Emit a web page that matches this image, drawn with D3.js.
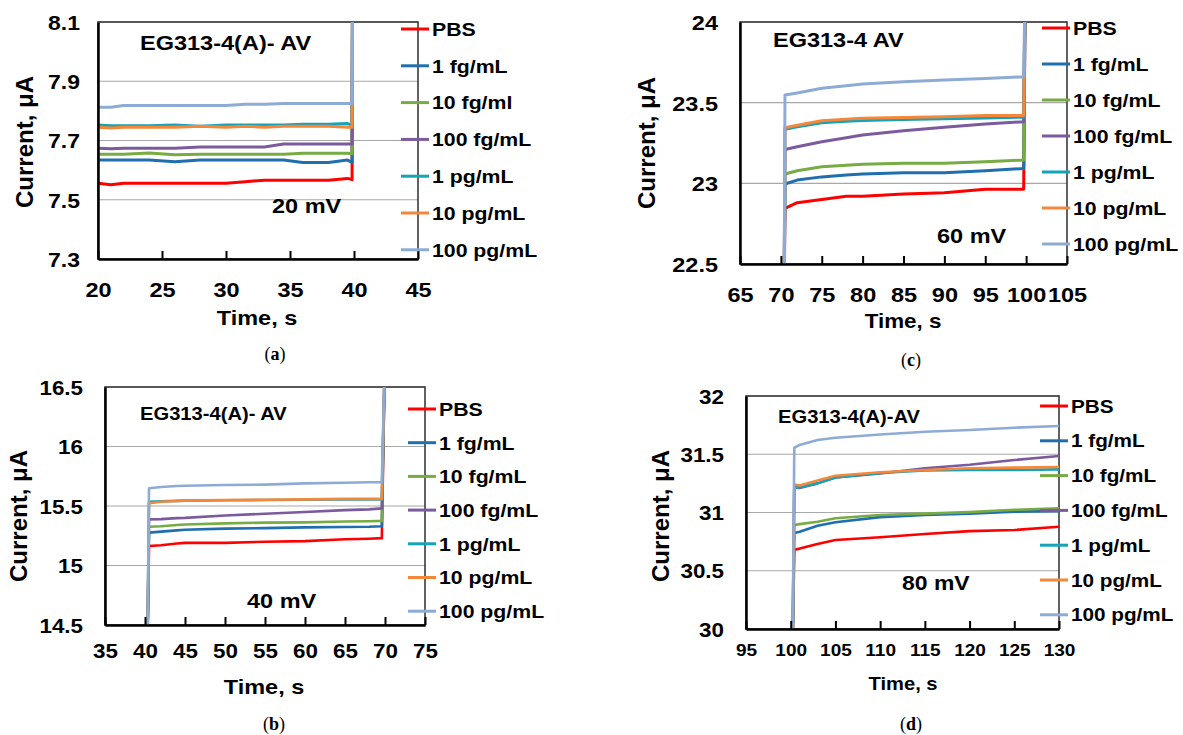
<!DOCTYPE html>
<html>
<head>
<meta charset="utf-8">
<script src="https://cdn.jsdelivr.net/npm/d3@7"></script>
<style>
body { margin: 0; background: #fff; }
svg { display: block; }
text { font-family: "Liberation Sans", Arial, sans-serif; font-weight: bold; fill: #000; }
.tag { font-family: "Liberation Serif", "DejaVu Serif", serif; font-weight: normal; }
</style>
</head>
<body>
<svg id="chart" width="1183" height="735"></svg>
<script>
// Series names and colours (same order in every panel, PBS drawn first)
var seriesNames = ['PBS', '1 fg/mL', '10 fg/mL', '100 fg/mL', '1 pg/mL', '10 pg/mL', '100 pg/mL'];
var legendNamesA = ['PBS', '1 fg/mL', '10 fg/ml', '100 fg/mL', '1 pg/mL', '10 pg/mL', '100 pg/mL'];
var seriesColors = ['#ff0000', '#1f6fae', '#77ab43', '#7b5b9e', '#16a2b7', '#f5873a', '#8eabd6'];

// (a) 20 mV
var timeA = [20, 21, 22, 24, 26, 28, 30, 31.5, 33, 34.5, 36, 38, 39.5, 39.85, 39.9];
var pbsA = [7.556, 7.551, 7.556, 7.556, 7.556, 7.556, 7.556, 7.561, 7.566, 7.566, 7.566, 7.566, 7.572, 7.568, 8.4];
var fg1A = [7.634, 7.634, 7.634, 7.634, 7.628, 7.634, 7.634, 7.634, 7.634, 7.634, 7.626, 7.626, 7.634, 7.626, 8.4];
var fg10A = [7.654, 7.654, 7.654, 7.658, 7.652, 7.654, 7.654, 7.654, 7.654, 7.654, 7.657, 7.657, 7.657, 7.655, 8.4];
var fg100A = [7.674, 7.672, 7.674, 7.674, 7.674, 7.678, 7.678, 7.678, 7.678, 7.688, 7.688, 7.688, 7.688, 7.688, 8.4];
var pg1A = [7.752, 7.75, 7.75, 7.75, 7.752, 7.748, 7.752, 7.752, 7.752, 7.752, 7.755, 7.755, 7.757, 7.752, 8.4];
var pg10A = [7.745, 7.742, 7.745, 7.745, 7.745, 7.748, 7.745, 7.748, 7.745, 7.748, 7.748, 7.748, 7.745, 7.745, 8.4];
var pg100A = [7.812, 7.812, 7.818, 7.818, 7.818, 7.818, 7.818, 7.822, 7.822, 7.825, 7.825, 7.825, 7.825, 7.825, 8.4];
var xTicksA = [20, 25, 30, 35, 40, 45];
var yTicksA = [7.3, 7.5, 7.7, 7.9, 8.1];

// (b) 40 mV
var timeB = [40.3, 40.5, 42, 44, 45, 50, 55, 60, 65, 68, 69.6, 70.0];
var pbsB = [14.3, 15.164, 15.17, 15.185, 15.19, 15.19, 15.2, 15.205, 15.22, 15.225, 15.23, 16.8];
var fg1B = [14.3, 15.276, 15.285, 15.295, 15.3, 15.31, 15.314, 15.32, 15.323, 15.326, 15.33, 16.8];
var fg10B = [14.3, 15.326, 15.33, 15.34, 15.345, 15.354, 15.36, 15.362, 15.37, 15.372, 15.375, 16.8];
var fg100B = [14.3, 15.388, 15.39, 15.398, 15.4, 15.42, 15.435, 15.45, 15.465, 15.472, 15.48, 16.8];
var pg1B = [14.3, 15.536, 15.54, 15.543, 15.545, 15.548, 15.55, 15.552, 15.555, 15.555, 15.556, 16.8];
var pg10B = [14.3, 15.523, 15.536, 15.542, 15.545, 15.55, 15.553, 15.556, 15.56, 15.56, 15.56, 16.8];
var pg100B = [14.3, 15.649, 15.66, 15.668, 15.67, 15.676, 15.68, 15.69, 15.695, 15.7, 15.7, 16.8];
var xTicksB = [35, 40, 45, 50, 55, 60, 65, 70, 75];
var yTicksB = [14.5, 15, 15.5, 16, 16.5];

// (c) 60 mV
var timeC = [70.4, 70.5, 72, 75, 78, 80, 85, 90, 95, 99.7, 99.9];
var pbsC = [22.3, 22.845, 22.88, 22.9, 22.92, 22.92, 22.934, 22.942, 22.963, 22.963, 24.3];
var fg1C = [22.3, 22.996, 23.02, 23.04, 23.052, 23.058, 23.066, 23.066, 23.078, 23.092, 24.3];
var fg10C = [22.3, 23.058, 23.078, 23.103, 23.112, 23.118, 23.124, 23.124, 23.134, 23.144, 24.3];
var fg100C = [22.3, 23.21, 23.227, 23.258, 23.283, 23.3, 23.326, 23.347, 23.368, 23.382, 24.3];
var pg1C = [22.3, 23.335, 23.35, 23.376, 23.385, 23.39, 23.395, 23.4, 23.405, 23.41, 24.3];
var pg10C = [22.3, 23.345, 23.36, 23.388, 23.398, 23.403, 23.408, 23.413, 23.42, 23.42, 24.3];
var pg100C = [22.3, 23.547, 23.56, 23.589, 23.605, 23.616, 23.63, 23.64, 23.65, 23.66, 24.3];
var xTicksC = [65, 70, 75, 80, 85, 90, 95, 100, 105];
var yTicksC = [22.5, 23, 23.5, 24];

// (d) 80 mV
var timeD = [100.2, 100.4, 101, 103, 105, 110, 115, 120, 125, 130];
var pbsD = [29.8, 30.68, 30.69, 30.73, 30.764, 30.787, 30.815, 30.84, 30.85, 30.878];
var fg1D = [29.8, 30.824, 30.835, 30.887, 30.916, 30.96, 30.98, 30.99, 31.007, 31.013];
var fg10D = [29.8, 30.893, 30.9, 30.92, 30.95, 30.978, 30.99, 31.003, 31.023, 31.037];
var fg100D = [29.8, 31.216, 31.21, 31.25, 31.3, 31.335, 31.38, 31.41, 31.45, 31.485];
var pg1D = [29.8, 31.21, 31.22, 31.25, 31.3, 31.34, 31.36, 31.365, 31.365, 31.37];
var pg10D = [29.8, 31.24, 31.232, 31.275, 31.316, 31.345, 31.365, 31.38, 31.385, 31.39];
var pg100D = [29.8, 31.556, 31.58, 31.622, 31.642, 31.67, 31.693, 31.708, 31.728, 31.742];
var xTicksD = [95, 100, 105, 110, 115, 120, 125, 130];
var yTicksD = [30, 30.5, 31, 31.5, 32];

// The source figure is slightly stretched sideways, so text is too
var SX = 1.12;

var panels = [
    { tag: 'a', time: timeA, values: [pbsA, fg1A, fg10A, fg100A, pg1A, pg10A, pg100A], names: legendNamesA,
      box: { left: 98, right: 418, top: 22, bottom: 259 },
      xDomain: [20, 45], xTicks: xTicksA, yDomain: [7.3, 8.1], yTicks: yTicksA,
      title: 'EG313-4(A)- AV', titlePos: [140, 50], titleSize: 21,
      volt: '20 mV', voltPos: [272, 213], voltSize: 21,
      yTickSize: 20.5, xTickSize: 21, xLabelOff: 38, yLabelGap: 18,
      xTitlePos: [257, 325], xTitleSize: 21, yTitlePos: [33, 142],
      legend: { x: 401, y: 29, dy: 36.8, size: 19 },
      tagPos: [275, 360], lineWidth: 3 },
    { tag: 'b', time: timeB, values: [pbsB, fg1B, fg10B, fg100B, pg1B, pg10B, pg100B], names: seriesNames,
      box: { left: 105, right: 425, top: 387, bottom: 625 },
      xDomain: [35, 75], xTicks: xTicksB, yDomain: [14.5, 16.5], yTicks: yTicksB,
      title: 'EG313-4(A)- AV', titlePos: [140, 420], titleSize: 18,
      volt: '40 mV', voltPos: [247, 608], voltSize: 21,
      yTickSize: 20, xTickSize: 20, xLabelOff: 33, yLabelGap: 22,
      xTitlePos: [264, 694], xTitleSize: 21, yTitlePos: [27, 516],
      legend: { x: 408, y: 409, dy: 33.7, size: 19 },
      tagPos: [274, 730], lineWidth: 2.6 },
    { tag: 'c', time: timeC, values: [pbsC, fg1C, fg10C, fg100C, pg1C, pg10C, pg100C], names: seriesNames,
      box: { left: 740, right: 1067, top: 22, bottom: 264 },
      xDomain: [65, 105], xTicks: xTicksC, yDomain: [22.5, 24], yTicks: yTicksC,
      title: 'EG313-4 AV', titlePos: [773, 47], titleSize: 21,
      volt: '60 mV', voltPos: [937, 243], voltSize: 21,
      yTickSize: 21, xTickSize: 21, xLabelOff: 38, yLabelGap: 22,
      xTitlePos: [903, 328], xTitleSize: 20, yTitlePos: [655, 143],
      legend: { x: 1042, y: 28, dy: 36, size: 19 },
      tagPos: [911, 366], lineWidth: 3 },
    { tag: 'd', time: timeD, values: [pbsD, fg1D, fg10D, fg100D, pg1D, pg10D, pg100D], names: seriesNames,
      box: { left: 746, right: 1059, top: 396, bottom: 629 },
      xDomain: [95, 130], xTicks: xTicksD, yDomain: [30, 32], yTicks: yTicksD,
      title: 'EG313-4(A)-AV', titlePos: [778, 423], titleSize: 18,
      volt: '80 mV', voltPos: [902, 590], voltSize: 20.5,
      yTickSize: 20, xTickSize: 17, xLabelOff: 27, yLabelGap: 22,
      xTitlePos: [903, 690], xTitleSize: 18, yTitlePos: [669, 516],
      legend: { x: 1040, y: 406, dy: 34.8, size: 18.5 },
      tagPos: [911, 730], lineWidth: 2.6 }
];

var svg = d3.select('#chart');

// Horizontal text, stretched like the source
function addText(g, x, y, str, size, anchor) {
    return g.append('text')
        .attr('transform', 'translate(' + x + ',' + y + ') scale(' + SX + ',1)')
        .attr('text-anchor', anchor || 'start')
        .style('font-size', size + 'px')
        .text(str);
}

function drawPanel(p) {
    var g = svg.append('g').attr('class', 'panel-' + p.tag);
    var b = p.box;
    var x = d3.scaleLinear().domain(p.xDomain).range([b.left, b.right]);
    var y = d3.scaleLinear().domain(p.yDomain).range([b.bottom, b.top]);

    // Horizontal gridlines
    g.append('g').selectAll('line').data(p.yTicks.slice(1))
        .enter().append('line')
        .attr('x1', b.left).attr('x2', b.right)
        .attr('y1', function (d) { return y(d); }).attr('y2', function (d) { return y(d); })
        .attr('stroke', '#a8a8a8').attr('stroke-width', 1.2);

    // Plot frame
    g.append('rect')
        .attr('x', b.left).attr('y', b.top)
        .attr('width', b.right - b.left).attr('height', b.bottom - b.top)
        .attr('fill', 'none').attr('stroke', '#3a3a3a').attr('stroke-width', 1.6);

    // Series, clipped to the plot area
    var clipId = 'clip-' + p.tag;
    g.append('clipPath').attr('id', clipId).append('rect')
        .attr('x', b.left).attr('y', b.top)
        .attr('width', b.right - b.left).attr('height', b.bottom - b.top);
    var line = d3.line()
        .x(function (d, i) { return x(p.time[i]); })
        .y(function (d) { return y(d); });
    g.append('g').attr('clip-path', 'url(#' + clipId + ')')
        .selectAll('path').data(p.values)
        .enter().append('path')
        .attr('d', line)
        .attr('fill', 'none')
        .attr('stroke', function (d, i) { return seriesColors[i]; })
        .attr('stroke-width', p.lineWidth)
        .attr('stroke-linejoin', 'round');

    // X axis with inside ticks
    var xAxis = d3.axisBottom(x).tickValues(p.xTicks).tickSizeInner(-8).tickSizeOuter(0)
        .tickFormat(function (d) { return String(d); });
    var gx = g.append('g').attr('transform', 'translate(0,' + b.bottom + ')').call(xAxis);
    gx.select('.domain').attr('stroke', '#000').attr('stroke-width', 2.5);
    gx.selectAll('.tick line').attr('stroke', '#000').attr('stroke-width', 2);
    gx.selectAll('.tick text')
        .attr('y', p.xLabelOff).attr('dy', null)
        .attr('transform', 'scale(' + SX + ',1)')
        .attr('fill', '#000')
        .style('font-size', p.xTickSize + 'px');

    // Y axis, no ticks
    var yAxis = d3.axisLeft(y).tickValues(p.yTicks).tickSize(0)
        .tickFormat(function (d) { return String(d); });
    var gy = g.append('g').attr('transform', 'translate(' + b.left + ',0)').call(yAxis);
    gy.select('.domain').attr('stroke', '#000').attr('stroke-width', 2.5);
    gy.selectAll('.tick text')
        .attr('x', -p.yLabelGap / SX).attr('dy', '0.36em')
        .attr('transform', 'scale(' + SX + ',1)')
        .attr('fill', '#000')
        .style('font-size', p.yTickSize + 'px');
    gx.attr('font-family', null).attr('font-size', null);
    gy.attr('font-family', null).attr('font-size', null);

    // Axis titles
    addText(g, p.xTitlePos[0], p.xTitlePos[1], 'Time, s', p.xTitleSize, 'middle');
    g.append('text')
        .attr('transform', 'translate(' + p.yTitlePos[0] + ',' + p.yTitlePos[1] + ') rotate(-90)')
        .attr('text-anchor', 'middle')
        .style('font-size', '24px')
        .text('Current, \u03bcA');

    // In-plot annotations
    addText(g, p.titlePos[0], p.titlePos[1], p.title, p.titleSize);
    addText(g, p.voltPos[0], p.voltPos[1], p.volt, p.voltSize);

    // Legend
    var L = p.legend;
    var rows = g.append('g').selectAll('g').data(p.names)
        .enter().append('g')
        .attr('transform', function (d, i) { return 'translate(' + L.x + ',' + (L.y + i * L.dy) + ')'; });
    rows.append('line')
        .attr('x1', 0).attr('x2', 28)
        .attr('stroke', function (d, i) { return seriesColors[i]; })
        .attr('stroke-width', 3);
    rows.append('text')
        .attr('x', 31 / SX).attr('dy', '0.36em')
        .attr('transform', 'scale(' + SX + ',1)')
        .style('font-size', L.size + 'px')
        .text(function (d) { return d; });

    // Sub-figure tag, e.g. (a)
    var tag = g.append('text').attr('class', 'tag')
        .attr('x', p.tagPos[0]).attr('y', p.tagPos[1])
        .attr('text-anchor', 'middle')
        .style('font-size', '18px');
    tag.append('tspan').text('(');
    tag.append('tspan').style('font-weight', 'bold').text(p.tag);
    tag.append('tspan').text(')');
}

panels.forEach(drawPanel);
</script>
</body>
</html>
